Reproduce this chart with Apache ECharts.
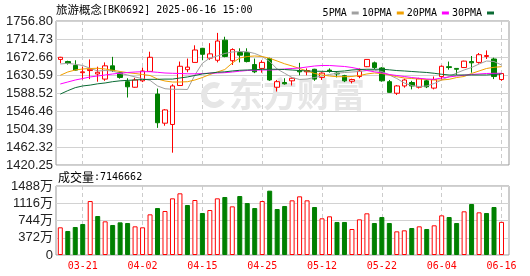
<!DOCTYPE html>
<html><head><meta charset="utf-8">
<script src="https://cdn.jsdelivr.net/npm/echarts@6/dist/echarts.min.js"></script>
<style>html,body{margin:0;padding:0;background:#fff}#c{width:530px;height:276px}</style>
</head><body><div id="c"></div>
<script>
const dates = ['03-18','03-19','03-20','03-21','03-24','03-25','03-26','03-27','03-28','03-31',
 '04-01','04-02','04-03','04-07','04-08','04-09','04-10','04-11','04-14','04-15',
 '04-16','04-17','04-18','04-21','04-22','04-23','04-24','04-25','04-28','04-29',
 '04-30','05-06','05-07','05-08','05-09','05-12','05-13','05-14','05-15','05-16',
 '05-19','05-20','05-21','05-22','05-23','05-26','05-27','05-28','05-29','05-30',
 '06-03','06-04','06-05','06-06','06-09','06-10','06-11','06-12','06-13','06-16'];
const opens = [1667,1662,1653,1636,1641,1633,1621,1652,1636,1615,1602,1617,1639,1586,1518,1515,1606,1643,1660,1693,
 1670,1665,1712,1664,1683,1683,1655,1646,1669,1602,1613,1617,1641,1638,1644,1625,1642,1635,1629,1616,
 1627,1650,1659,1647,1615,1588,1605,1613,1602,1617,1600,1627,1650,1646,1648,1662,1660,1674,1668,1620];
const closes = [1672,1658,1642,1638,1644,1637,1652,1641,1625,1603,1619,1640,1672,1519,1549,1605,1651,1649,1689,1679,
 1680,1710,1674,1690,1677,1662,1638,1660,1619,1615,1610,1623,1638,1641,1621,1635,1640,1633,1617,1620,
 1640,1667,1648,1617,1590,1605,1619,1605,1622,1603,1620,1651,1648,1644,1663,1659,1678,1676,1627,1634];
const highs = [1673,1664,1665,1650,1667,1650,1660,1673,1638,1623,1624,1648,1685,1599,1551,1609,1662,1669,1700,1694,
 1705,1729,1720,1693,1693,1693,1669,1665,1671,1619,1623,1625,1659,1646,1645,1637,1646,1637,1631,1622,
 1646,1667,1662,1649,1619,1607,1622,1617,1624,1620,1627,1653,1662,1646,1664,1675,1682,1688,1671,1635];
const lows = [1658,1655,1641,1620,1621,1615,1617,1638,1622,1578,1601,1614,1638,1507,1512,1449,1605,1637,1660,1665,
 1666,1660,1672,1654,1660,1660,1635,1636,1617,1592,1608,1606,1630,1630,1617,1619,1636,1625,1614,1611,
 1623,1649,1644,1615,1589,1584,1601,1597,1599,1600,1597,1620,1643,1631,1647,1636,1657,1668,1621,1617];
const volumes = [597,518,604,668,1164,841,726,647,704,690,618,597,877,1013,949,1222,1330,1078,1186,906,
 970,1222,1251,1049,1272,1121,1013,1164,1387,992,1057,1179,1265,1179,1035,791,834,712,712,561,
 769,899,690,819,690,510,532,582,618,561,640,855,819,690,942,1100,920,906,1035,714.6662];
const volUp = [1,0,0,0,1,0,1,0,0,0,1,1,1,0,1,1,1,0,1,0,1,1,0,1,0,0,0,1,0,0,
 0,1,1,1,0,1,1,0,0,1,1,1,0,0,0,1,1,0,1,0,1,1,0,0,1,0,1,0,0,1];
const ma5 = [1656.3,1658,1655.6,1652.8,1646.3,1640,1641.1,1640,1634.1,1630.6,1626,1622,1618,1605,1598.5,1597.2,1597.2,1596.7,1630.6,1658,
 1670.3,1675,1680.9,1684.4,1685.5,1685,1680.9,1673.8,1662.1,1644.6,1634.6,1624.7,1620.1,1621.2,1624.7,1628.3,1631.8,1634.6,1636.4,1637.6,
 1638.8,1641.1,1641.6,1638.8,1630.6,1622.4,1611.9,1606,1603.7,1604.9,1610.7,1618.9,1627.1,1635.3,1642.3,1648.1,1656.3,1663.3,1662.1,1654];
const ma10 = [1629.9,1637.6,1642.3,1644.6,1645.8,1646.3,1644.6,1641.6,1638.8,1636,1634.1,1631.8,1629.4,1621.2,1616.6,1614.2,1614.2,1614.9,1618.9,1624.7,
 1631.8,1637.6,1643.4,1658.6,1670.3,1673.8,1675,1673.8,1669.6,1663.3,1656.8,1651.6,1645.8,1640,1634.1,1630.6,1628.3,1626.6,1626.6,1627.1,
 1629.4,1633,1635.3,1634.1,1630.6,1626.6,1623.6,1622.4,1621.2,1620.1,1618.9,1618.9,1620.5,1624.7,1627.1,1634.1,1640,1645.8,1648.6,1650];
const ma20 = [1609.6,1614.2,1618.9,1622.4,1626,1628.3,1630.6,1633,1634.8,1636.4,1637.6,1638.3,1638.3,1636.9,1635.3,1634.6,1634.1,1633.4,1633.4,1634,
 1634.8,1635.3,1636,1637.6,1639.5,1641.1,1641.8,1642.3,1642.3,1643,1644.6,1645.8,1647,1649.3,1651.6,1652.8,1652.8,1651.6,1650.5,1648.1,
 1644.6,1641.1,1638.1,1635.3,1631.8,1629.4,1627.1,1624.7,1622.9,1621.2,1620.5,1623.6,1626,1628.3,1630.1,1631.8,1633,1634.1,1634.6,1634.6];
const ma30 = [1586,1594,1601,1605,1607,1610,1612,1615,1617,1618,1619,1620,1620.5,1620.5,1621,1621,1623.6,1626,1629.5,1633,
 1635,1637,1638,1640,1641.6,1642.3,1643,1643.9,1644,1644,1643.4,1642.3,1641,1640,1639.5,1639.2,1638.8,1638.8,1640,1642.3,
 1643.4,1644,1644,1644,1642.7,1641,1640,1638.8,1637.6,1636.5,1634.6,1632.3,1630.6,1630.6,1630.6,1630.6,1630.6,1630.6,1631.8,1632.9];
const priceTicks = ['1420.25','1462.32','1504.39','1546.46','1588.52','1630.59','1672.66','1714.73','1756.80'];
const volTicks = ['0','372万','744万','1116万','1488万'];
const priceMin = 1420.25, priceMax = 1756.80, volMax = 1488;
const maNames = ['5PMA','10PMA','20PMA','30PMA'];
const maColors = ['#a0a0a0','#f0a000','#ff00ff','#0a6b34'];
const maData = [ma5, ma10, ma20, ma30];
const title = ['旅游概念', '[BK0692] 2025-06-16 15:00'];
const volTitle = ['成交量', ':7146662'];

const RED = '#ff0000', GREEN = '#008000';
const chart = echarts.init(document.getElementById('c'), null, {renderer: 'canvas'});
const showIdx = (i) => i % 8 === 3;
const vsplit = {show: true, interval: showIdx, lineStyle: {color: '#cccccc', type: [4, 3], width: 1}};
const hsplit = {show: true, interval: 0, lineStyle: {color: '#d2d2d2', width: 1}};
const yLabel = {interval: 0, color: '#222', fontFamily: '"Liberation Sans", Arial, "Noto Sans CJK SC"', fontSize: 13, margin: 3};

const series = [
  {
    type: 'candlestick', xAxisIndex: 1, yAxisIndex: 1, barWidth: 5, z: 2,
    data: dates.map((d, i) => [opens[i], closes[i], lows[i], highs[i]]),
    itemStyle: {color: '#ffffff', color0: GREEN, borderColor: RED, borderColor0: GREEN, borderWidth: 1}
  },
  {
    type: 'bar', xAxisIndex: 3, yAxisIndex: 3, barWidth: 5, z: 2,
    data: volumes.map((v, i) => ({
      value: v,
      itemStyle: volUp[i] ? {color: '#ffffff', borderColor: RED, borderWidth: 1} : {color: GREEN, borderColor: GREEN, borderWidth: 1}
    }))
  }
];
maNames.forEach((n, k) => series.push({
  type: 'line', name: n, xAxisIndex: 1, yAxisIndex: 1, data: maData[k], showSymbol: false, symbol: 'none',
  color: maColors[k], lineStyle: {color: maColors[k], width: 1}, z: 3
}));

chart.setOption({
  animation: false,
  backgroundColor: '#ffffff',
  legend: {
    data: maNames, right: 31, top: 3, align: 'right', icon: 'rect', itemWidth: 7, itemHeight: 3, itemGap: 3,
    selectedMode: false, textStyle: {fontFamily: '"DejaVu Sans Mono", monospace', fontSize: 10, color: '#000'}
  },
  grid: [
    {left: 56, top: 21, width: 453, height: 144, show: true, borderColor: '#999', borderWidth: 1, backgroundColor: 'transparent'},
    {left: 60.3, top: 21, width: 441.2, height: 144},
    {left: 56, top: 186, width: 453, height: 69, show: true, borderColor: '#999', borderWidth: 1, backgroundColor: 'transparent'},
    {left: 60.3, top: 186, width: 441.2, height: 69}
  ],
  xAxis: [
    {gridIndex: 0, type: 'value', show: false, min: 0, max: 1},
    {gridIndex: 1, type: 'category', data: dates, boundaryGap: false, axisLine: {show: false}, axisTick: {show: false}, axisLabel: {show: false}, splitLine: vsplit},
    {gridIndex: 2, type: 'value', show: false, min: 0, max: 1},
    {gridIndex: 3, type: 'category', data: dates, boundaryGap: false, axisLine: {show: false}, axisTick: {show: false},
      axisLabel: {interval: showIdx, color: RED, fontFamily: '"DejaVu Sans Mono", monospace', fontSize: 10, margin: 6}, splitLine: vsplit}
  ],
  yAxis: [
    {gridIndex: 0, type: 'category', data: priceTicks, boundaryGap: false, axisLine: {show: false}, axisTick: {show: false}, axisLabel: yLabel, splitLine: hsplit},
    {gridIndex: 1, type: 'value', min: priceMin, max: priceMax, show: false, splitLine: {show: false}},
    {gridIndex: 2, type: 'category', data: volTicks, boundaryGap: false, axisLine: {show: false}, axisTick: {show: false}, axisLabel: yLabel, splitLine: hsplit},
    {gridIndex: 3, type: 'value', min: 0, max: volMax, show: false, splitLine: {show: false}}
  ],
  graphic: [
    {type: 'text', x: 56, y: 10, z: 5, style: {text: title[0], fill: '#000', font: '11.5px "Noto Sans CJK SC"', verticalAlign: 'middle'}},
    {type: 'text', x: 102, y: 10, z: 5, style: {text: title[1], fill: '#000', font: '10px "DejaVu Sans Mono"', verticalAlign: 'middle'}},
    {type: 'text', x: 58, y: 177, z: 5, style: {text: volTitle[0], fill: '#000', font: '12px "Noto Sans CJK SC"', verticalAlign: 'middle'}},
    {type: 'text', x: 94, y: 177, z: 5, style: {text: volTitle[1], fill: '#000', font: '10px "DejaVu Sans Mono"', verticalAlign: 'middle'}},
    {type: 'arc', z: 1, shape: {cx: 214, cy: 95, r: 10, startAngle: 0.6, endAngle: 5.2}, style: {stroke: '#e6e6e6', lineWidth: 6, fill: null}},
    {type: 'text', x: 229, y: 94, z: 1, style: {text: '东方财富', fill: '#e6e6e6', font: 'bold 34px "Noto Sans CJK SC"', verticalAlign: 'middle'}}
  ],
  series: series
});
</script></body></html>
